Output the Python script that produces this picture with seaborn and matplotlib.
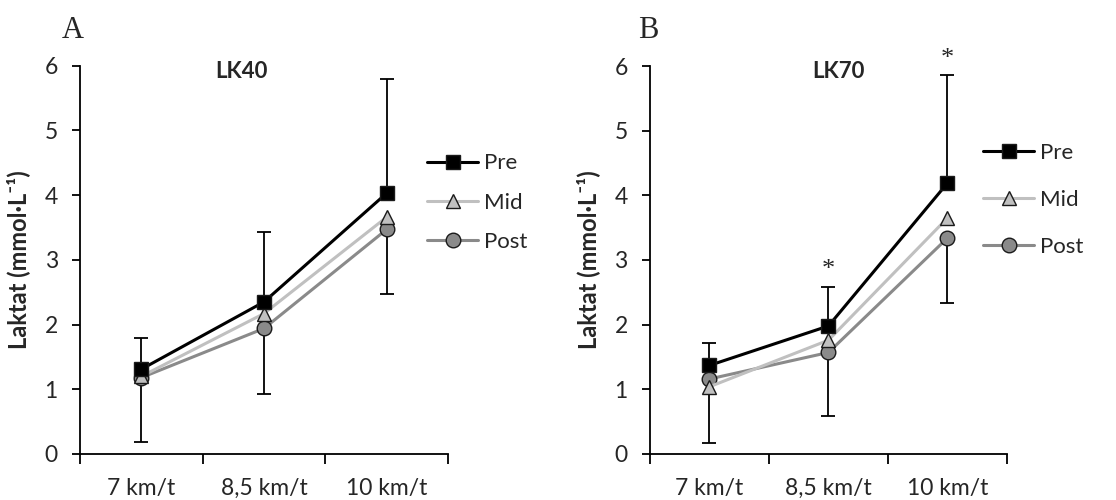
import numpy as np
import pandas as pd
import seaborn as sns
import matplotlib.pyplot as plt

# data
speeds = ['7 km/t', '8,5 km/t', '10 km/t']
groups = ['Pre', 'Mid', 'Post']

lk40_pre = [1.31, 2.35, 4.03]
lk40_mid = [1.20, 2.17, 3.66]
lk40_post = [1.18, 1.94, 3.47]
lk40_pre_up = [0.48, 1.08, 1.77]     # upper error (on Pre)
lk40_post_down = [1.00, 1.01, 1.00]  # lower error (on Post)
lk40_sig = ['', '', '']

lk70_pre = [1.37, 1.98, 4.19]
lk70_mid = [1.04, 1.76, 3.65]
lk70_post = [1.16, 1.57, 3.34]
lk70_pre_up = [0.34, 0.61, 1.67]
lk70_post_down = [0.99, 0.99, 1.00]
lk70_sig = ['', '*', '*']

colors = {'Pre': '#000000', 'Mid': '#c0c0c0', 'Post': '#8a8a8a'}
markers = {'Pre': 's', 'Mid': '^', 'Post': 'o'}

sns.set_theme(style='ticks')
plt.rcParams['font.family'] = ['Lato', 'DejaVu Sans']

fig = plt.figure(figsize=(11.16, 5), dpi=100)
axA = fig.add_axes([0.0717, 0.092, 0.3297, 0.7766])
axB = fig.add_axes([0.5824, 0.092, 0.3199, 0.776])


def panel(ax, pre, mid, post, pre_up, post_down, sig, title, title_x, leg_x, leg_y, leg_sp):
    x = np.arange(len(speeds))
    df = pd.DataFrame({
        'x': np.tile(x, 3),
        'laktat': pre + mid + post,
        'group': np.repeat(groups, len(speeds)),
    })
    # error bars behind the lines
    ax.errorbar(x, pre, yerr=[np.zeros(len(x)), pre_up], fmt='none',
                ecolor='black', elinewidth=1.3, capsize=5, capthick=1.3, zorder=1)
    ax.errorbar(x, post, yerr=[post_down, np.zeros(len(x))], fmt='none',
                ecolor='black', elinewidth=1.3, capsize=5, capthick=1.3, zorder=1)
    # draw Post first, Pre on top
    for g in ['Post', 'Mid', 'Pre']:
        sub = df[df['group'] == g]
        sns.lineplot(data=sub, x='x', y='laktat', color=colors[g], marker=markers[g],
                     markersize=10.5, markeredgecolor='#1a1a1a', markeredgewidth=1.0,
                     markerfacecolor=colors[g], linewidth=2.2, label=g, ax=ax,
                     zorder=3, legend=True)
    for xi, top, s in zip(x, np.array(pre) + np.array(pre_up), sig):
        if s:
            ax.text(xi, top + 0.25, s, ha='center', va='center', fontsize=19,
                    family='Liberation Serif', clip_on=False)

    ax.set_xlim(-0.5, 2.5)
    ax.set_ylim(0, 6)
    ax.set_yticks(range(7))
    ax.set_xticks(x)
    ax.set_xticklabels(speeds)
    ax.set_xticks(np.arange(-0.5, 3, 1), minor=True)
    ax.tick_params(axis='x', which='major', length=0, pad=17, labelsize=16.5)
    ax.tick_params(axis='x', which='minor', length=7, width=1.3, direction='out', color='black')
    ax.tick_params(axis='y', length=6, width=1.3, pad=10, labelsize=16.5, color='black')
    for sp in ['left', 'bottom']:
        ax.spines[sp].set_linewidth(1.3)
        ax.spines[sp].set_color('black')
    sns.despine(ax=ax)
    ax.set_xlabel('')
    ax.set_ylabel('Laktat (mmol·L⁻¹)', fontsize=17, fontweight='bold', labelpad=10)
    ax.text(title_x, 0.985, title, transform=ax.transAxes, ha='center', va='center',
            fontsize=16, fontweight='bold')

    handles, labels = ax.get_legend_handles_labels()
    order = [labels.index(g) for g in groups]
    ax.legend([handles[i] for i in order], groups, loc='center left',
              bbox_to_anchor=(leg_x, leg_y), frameon=False, fontsize=16,
              handlelength=2.3, handletextpad=0.25, labelspacing=leg_sp,
              borderpad=0, borderaxespad=0)
    ax.get_legend().set_clip_on(False)


panel(axA, lk40_pre, lk40_mid, lk40_post, lk40_pre_up, lk40_post_down, lk40_sig,
      'LK40', 0.44, 0.943, 0.647, 0.87)
panel(axB, lk70_pre, lk70_mid, lk70_post, lk70_pre_up, lk70_post_down, lk70_sig,
      'LK70', 0.527, 0.933, 0.655, 1.22)

fig.text(0.055, 0.94, 'A', family='Liberation Serif', fontsize=22, va='center')
fig.text(0.572, 0.94, 'B', family='Liberation Serif', fontsize=22, va='center')

fig.savefig('out.png', dpi=100)
